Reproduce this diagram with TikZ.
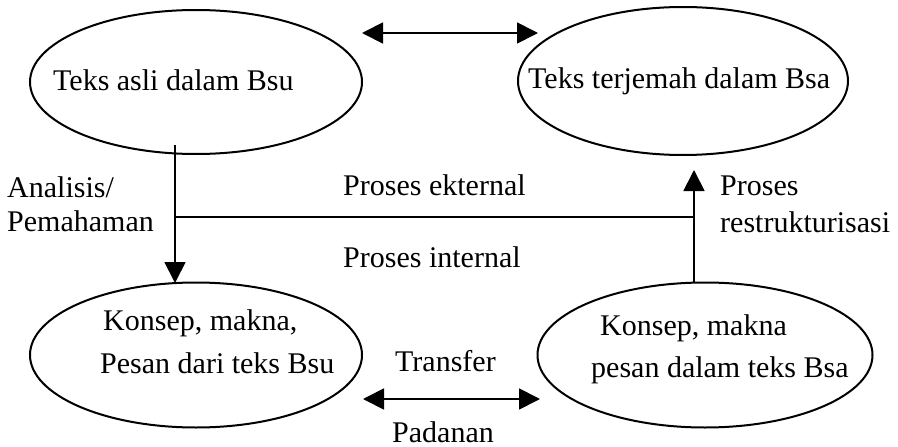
\documentclass[tikz,border=0pt]{standalone}
\usepackage{fontspec}
\setmainfont{Liberation Serif}
\usetikzlibrary{shapes.geometric,arrows.meta}
\begin{document}
\begin{tikzpicture}[x=1pt,y=-1pt,
  oval/.style={draw,ellipse,line width=2pt,inner sep=0pt},
  lbl/.style={anchor=base west,inner sep=0pt,font=\fontsize{30}{36}\selectfont},
  conn/.style={line width=1.8pt},
  tip/.style={-{Triangle[length=21pt,width=21pt]}},
  dtip/.style={{Triangle[length=21pt,width=21pt]}-{Triangle[length=21pt,width=21pt]}}]
\useasboundingbox (0,0) rectangle (898,447);
% ellipses
\node[oval,minimum width=332pt,minimum height=144pt] (tl) at (196,82) {};
\node[oval,minimum width=330pt,minimum height=148pt] (tr) at (683,81) {};
\node[oval,minimum width=332pt,minimum height=145pt] (bl) at (196,355) {};
\node[oval,minimum width=335pt,minimum height=145pt] (br) at (705,355) {};
% ellipse texts
\node[lbl] (tlt) at (53,90) {Teks asli dalam Bsu};
\node[lbl] (trt) at (528,88) {Teks terjemah dalam Bsa};
\node[lbl] (blt1) at (103,330) {Konsep, makna,};
\node[lbl] (blt2) at (100,373) {Pesan dari teks Bsu};
\node[lbl] (brt1) at (600,335) {Konsep, makna};
\node[lbl] (brt2) at (591,377) {pesan dalam teks Bsa};
% labels
\node[lbl] (an1) at (7,197) {Analisis/};
\node[lbl] (an2) at (7,231) {Pemahaman};
\node[lbl] (pe) at (343,195) {Proses ekternal};
\node[lbl] (pi) at (343,267) {Proses internal};
\node[lbl] (pr1) at (720,195) {Proses};
\node[lbl] (pr2) at (720,232) {restrukturisasi};
\node[lbl] (tf) at (395,371) {Transfer};
\node[lbl] (pd) at (392,442) {Padanan};
% coordinates
\coordinate (ta1) at (362,33);
\coordinate (ta2) at (538,33);
\coordinate (lv1) at (175,145);
\coordinate (lv2) at (175,283);
\coordinate (hl1) at (175,217);
\coordinate (hl2) at (694,217);
\coordinate (rv1) at (694,283);
\coordinate (rv2) at (694,170);
\coordinate (ba1) at (363,399);
\coordinate (ba2) at (540,399);
% connectors
\draw[conn,dtip] (ta1) -- (ta2);
\draw[conn,tip] (lv1) -- (lv2);
\draw[conn] (hl1) -- (hl2);
\draw[conn,tip] (rv1) -- (rv2);
\draw[conn,dtip] (ba1) -- (ba2);
\end{tikzpicture}
\end{document}
